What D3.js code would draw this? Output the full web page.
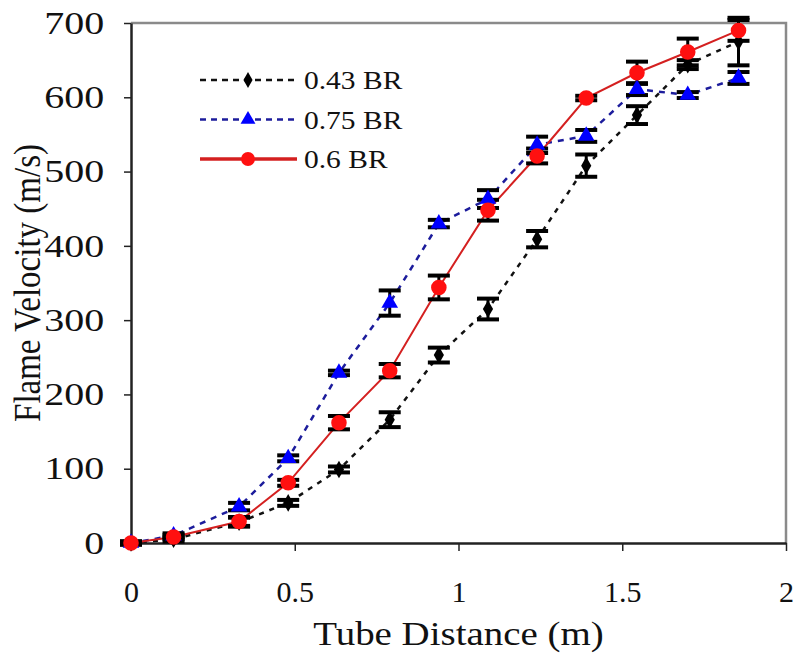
<!DOCTYPE html>
<html>
<head>
<meta charset="utf-8">
<script src="https://cdn.jsdelivr.net/npm/d3@7"></script>
<style>
  body { margin: 0; background: white; }
  text { font-family: "Liberation Serif", serif; fill: #111; }
</style>
</head>
<body>
<svg width="795" height="653"></svg>
<script>
// tube positions (m)
var distance = [0, 0.13, 0.33, 0.48, 0.635, 0.79, 0.94, 1.09, 1.24, 1.39, 1.545, 1.70, 1.855];

// flame velocity (m/s) and error bar half-widths
var br043 = [0, 5, 28, 54, 99, 166, 253, 315, 409, 508, 576, 644, 675];
var br043Err = [2, 3, 6, 4, 4, 10, 10, 14, 11, 15, 12, 6, 32];
var br075 = [0, 10, 49, 114, 229, 323, 430, 463, 536, 548, 611, 603, 626];
var br075Err = [2, 3, 5, 4, 3, 17, 5, 12, 11, 8, 8, 4, 8];
var br06 = [0, 8, 29, 81, 162, 232, 344, 448, 521, 599, 633, 661, 690];
var br06Err = [2, 3, 6, 4, 9, 9, 16, 14, 10, 3, 15, 18, 14];

var xTicks = [0, 0.5, 1, 1.5, 2];
var yTicks = [0, 100, 200, 300, 400, 500, 600, 700];
var seriesNames = ["0.43 BR", "0.75 BR", "0.6 BR"];

var stretch = 1.18; // the original figure is a bit wider than tall

var svg = d3.select("svg");
var margin = { top: 23, right: 9, bottom: 110, left: 131 };
var w = 795 - margin.left - margin.right,
    h = 653 - margin.top - margin.bottom;

var xS = d3.scaleLinear().domain([0, 2]).range([0, w]);
var yS = d3.scaleLinear().domain([0, 700]).range([h, 0]);

var g = svg.append("g")
    .attr("transform", "translate(" + margin.left + "," + margin.top + ")");

// grey frame on top and right
g.append("path")
    .attr("d", "M0,0H" + w + "V" + h)
    .attr("fill", "none")
    .attr("stroke", "#8a8a8a")
    .attr("stroke-width", 2.5);

var yAxis = g.append("g")
    .call(d3.axisLeft(yS).tickValues(yTicks).tickSize(7).tickSizeOuter(0).tickPadding(14.5));
var xAxis = g.append("g")
    .attr("transform", "translate(0," + h + ")")
    .call(d3.axisBottom(xS).tickValues(xTicks).tickFormat(d3.format("")).tickSize(8).tickSizeOuter(0).tickPadding(30));

[yAxis, xAxis].forEach(function(a) {
    a.attr("font-family", null);
    a.select(".domain").attr("stroke", "#222").attr("stroke-width", 2.5);
    a.selectAll(".tick line").attr("stroke", "#222").attr("stroke-width", 1.5);
});
yAxis.selectAll("text").style("font-size", "32px").attr("transform", "scale(1.25,1)");
xAxis.selectAll("text").style("font-size", "30px");

var series = [
    { name: seriesNames[0], vals: br043, err: br043Err, line: "#111", mark: "#000", dash: "5,6", shape: d3.symbolDiamond, size: 90, width: 2.5 },
    { name: seriesNames[1], vals: br075, err: br075Err, line: "#1c1c9c", mark: "#0000ff", dash: "6,6", shape: d3.symbolTriangle, size: 120, width: 2.5 },
    { name: seriesNames[2], vals: br06, err: br06Err, line: "#d42020", mark: "#ff1010", dash: null, shape: d3.symbolCircle, size: 190, width: 2 }
];

var line = d3.line()
    .x(function(d, i) { return xS(distance[i]); })
    .y(function(d) { return yS(d); });

series.forEach(function(s) {
    g.append("path")
        .datum(s.vals)
        .attr("d", line)
        .attr("fill", "none")
        .attr("stroke", s.line)
        .attr("stroke-width", s.width)
        .attr("stroke-dasharray", s.dash);
});

// error bars
series.forEach(function(s) {
    var eb = g.append("g").attr("stroke", "#000");
    s.vals.forEach(function(v, i) {
        var x = xS(distance[i]), y0 = yS(v - s.err[i]), y1 = yS(v + s.err[i]);
        eb.append("line").attr("x1", x).attr("x2", x).attr("y1", y0).attr("y2", y1).attr("stroke-width", 3);
        eb.append("line").attr("x1", x - 11).attr("x2", x + 11).attr("y1", y0).attr("y2", y0).attr("stroke-width", 4);
        eb.append("line").attr("x1", x - 11).attr("x2", x + 11).attr("y1", y1).attr("y2", y1).attr("stroke-width", 4);
    });
});

// markers
series.forEach(function(s) {
    g.selectAll(null)
        .data(s.vals)
        .enter()
        .append("path")
        .attr("d", d3.symbol().type(s.shape).size(s.size))
        .attr("transform", function(d, i) { return "translate(" + xS(distance[i]) + "," + yS(d) + ")"; })
        .attr("fill", s.mark);
});

// legend
var legend = svg.append("g").attr("transform", "translate(200,80)");
series.forEach(function(s, i) {
    var row = legend.append("g").attr("transform", "translate(0," + (i * 39.5) + ")");
    row.append("line")
        .attr("x1", 0).attr("x2", 97)
        .attr("stroke", s.line)
        .attr("stroke-width", s.dash ? 2.5 : 3.5)
        .attr("stroke-dasharray", s.dash ? "6,5" : null);
    row.append("path")
        .attr("d", d3.symbol().type(s.shape).size(s.size * 0.8))
        .attr("transform", "translate(48,0)")
        .attr("fill", s.mark);
    row.append("text")
        .attr("transform", "translate(104,9) scale(" + stretch + ",1)")
        .style("font-size", "25px")
        .text(s.name);
});

// axis titles
svg.append("text")
    .attr("transform", "translate(" + (margin.left + w / 2) + ",645) scale(" + stretch + ",1)")
    .attr("text-anchor", "middle")
    .style("font-size", "33px")
    .text("Tube Distance (m)");

svg.append("text")
    .attr("transform", "translate(40," + (margin.top + h / 2) + ") rotate(-90) scale(1," + stretch + ")")
    .attr("text-anchor", "middle")
    .style("font-size", "33px")
    .text("Flame Velocity (m/s)");
</script>
</body>
</html>
